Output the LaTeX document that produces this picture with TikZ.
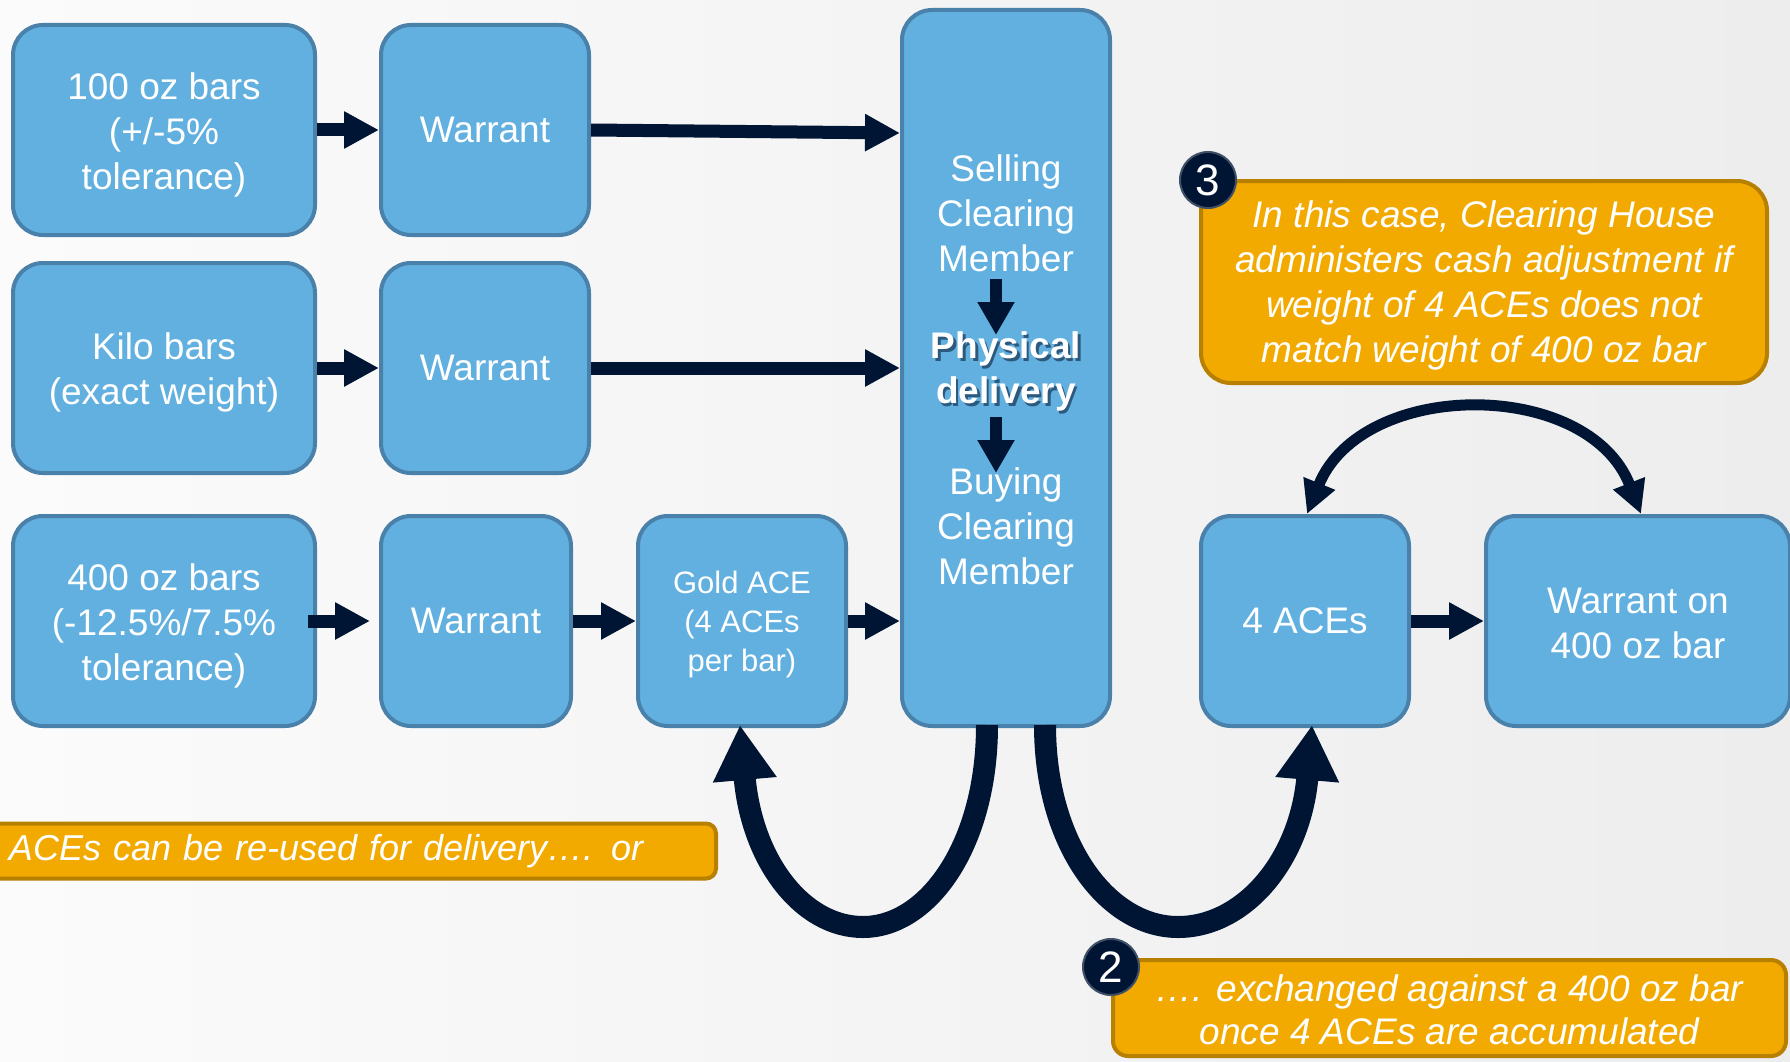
\documentclass[tikz,border=0pt]{standalone}
\usepackage{fontspec}
\setmainfont{Liberation Sans}
\usetikzlibrary{arrows.meta}
\definecolor{boxblue}{HTML}{62B0E0}
\definecolor{boxline}{HTML}{4A81AB}
\definecolor{navy}{HTML}{001533}
\definecolor{ofill}{HTML}{F2AA00}
\definecolor{oline}{HTML}{B78000}
\definecolor{bgl}{HTML}{FBFBFB}
\definecolor{bgr}{HTML}{EDEDED}
\newcommand{\tupa}{\rule{0pt}{36pt}}
\newcommand{\tupb}{\rule{0pt}{29pt}}
\newcommand{\tupc}{\rule{0pt}{34pt}}
\begin{document}
\begin{tikzpicture}[x=1pt,y=-1pt,
 bbox/.style={draw=boxline, fill=boxblue, line width=4pt, rounded corners=30pt, text=white, align=center, inner sep=0pt, font=\fontsize{37}{45}\selectfont},
 ctext/.style={text=white, align=center, inner sep=0pt, font=\fontsize{37}{45}\selectfont},
 obox/.style={draw=oline, fill=ofill, line width=4pt, text=white, font=\fontsize{37}{45}\selectfont\itshape, inner sep=0pt},
 harrow/.style={draw=navy, line width=13pt, -{Triangle[length=35pt,width=35pt]}},
 varrow/.style={draw=navy, line width=12pt, -{Triangle[length=33pt,width=35pt]}},
 ucurve/.style={draw=navy, line width=22pt, -{Triangle[length=55pt,width=60pt]}},
 arcarrow/.style={draw=navy, line width=11pt, {Triangle[length=33pt,width=32pt]}-{Triangle[length=33pt,width=32pt]}},
 numc/.style={circle, fill=navy, draw=navy!75!white, line width=2pt, minimum size=56pt, inner sep=0pt, text=white, font=\fontsize{44}{44}\selectfont}
]
\useasboundingbox (0,0) rectangle (1790,1062);
\clip (0,0) rectangle (1790,1062);
\shade[left color=bgl, right color=bgr] (0,0) rectangle (1790,1062);

% boxes
\node[bbox, minimum width=302pt, minimum height=210pt] (b1) at (164,130) {\tupa 100 oz bars\\(+/-5\%\\tolerance)};
\node[bbox, minimum width=208pt, minimum height=210pt] (w1) at (485,130) {Warrant};
\node[bbox, minimum width=302pt, minimum height=210pt] (b2) at (164,368) {\tupa Kilo bars\\(exact weight)};
\node[bbox, minimum width=208pt, minimum height=210pt] (w2) at (485,368) {Warrant};
\node[bbox, minimum width=302pt, minimum height=210pt] (b3) at (164,621) {\tupa 400 oz bars\\(-12.5\%/7.5\%\\tolerance)};
\node[bbox, minimum width=190pt, minimum height=210pt] (w3) at (476,621) {Warrant};
\node[bbox, minimum width=208pt, minimum height=210pt, font=\fontsize{31}{39}\selectfont] (ace) at (742,621) {\tupb Gold ACE\\(4 ACEs\\per bar)};
\node[bbox, minimum width=208pt, minimum height=716pt] (cm) at (1006,368) {};
\node[bbox, minimum width=208pt, minimum height=210pt] (a4) at (1305,621) {4 ACEs};
\node[bbox, minimum width=304pt, minimum height=210pt] (w4) at (1638,621) {\rule{0pt}{31pt}Warrant on\\400 oz bar};

% central texts
\node[ctext] (cs) at (1006,213) {Selling\\Clearing\\Member};
\node[ctext, text=navy!85!black, opacity=0.55, font=\fontsize{37}{45}\selectfont\bfseries] (cpsh) at (1008.5,374) {Physical\\delivery};
\node[ctext, font=\fontsize{37}{45}\selectfont\bfseries] (cp) at (1006,371.5) {Physical\\delivery};
\node[ctext] (cb) at (1006,526) {Buying\\Clearing\\Member};
\coordinate (d1a) at (996,279);
\coordinate (d1b) at (996,335);
\coordinate (d2a) at (996,417);
\coordinate (d2b) at (996,473);
\draw[varrow] (d1a) -- (d1b);
\draw[varrow] (d2a) -- (d2b);

% horizontal arrows
\draw[harrow] (b1.east) -- (w1.west);
\draw[harrow] (w1.east) -- ([yshift=-3pt]cm.west |- w1.east);
\draw[harrow] (b2.east) -- (w2.west);
\draw[harrow] (w2.east) -- (cm.west |- w2.east);
\draw[harrow] ([xshift=-9pt]b3.east) -- ([xshift=-9pt]w3.west);
\draw[harrow] (w3.east) -- (ace.west);
\draw[harrow] (ace.east) -- (cm.west |- ace.east);
\draw[harrow] (a4.east) -- (w4.west);

% U curves
\coordinate (lb) at (863,927);
\coordinate (rb) at (1178,927);
\draw[ucurve] ([xshift=-19pt,yshift=3pt]cm.south) .. controls +(0,120) and +(65,0) .. (lb) .. controls +(-60,0) and +(12,137) .. ([xshift=-2pt,yshift=3pt]ace.south);
\draw[ucurve] ([xshift=39pt,yshift=3pt]cm.south) .. controls +(0,120) and +(-70,0) .. (rb) .. controls +(65,0) and +(-12,137) .. ([xshift=7pt,yshift=3pt]a4.south);

% top arc
\draw[arcarrow] ([xshift=2pt]a4.north) .. controls +(55,-136) and +(-53,-136) .. ([xshift=3pt]w4.north);

% orange callouts
\node[obox, rounded corners=30pt, minimum width=566pt, minimum height=202pt, align=center] (o3) at (1484,282) {\tupc In this case, Clearing House\\administers cash adjustment if\\weight of 4 ACEs does not\\match weight of 400 oz bar};
\node[numc] (n3) at (1208,180) {3};

\node[obox, rounded corners=10pt, anchor=west, text width=682pt, align=left, inner xsep=25pt, minimum height=55pt, font=\fontsize{36}{45}\selectfont\itshape] (o1) at (-18,851) {ACEs can be re-used for delivery…. or};

\node[obox, rounded corners=15pt, minimum width=673pt, minimum height=96pt, align=center, font=\fontsize{37}{43}\selectfont\itshape] (o2) at (1449.5,1008) {\rule{0pt}{30pt}…. exchanged against a 400 oz bar\\once 4 ACEs are accumulated};
\node[numc] (n2) at (1111,967) {2};
\end{tikzpicture}
\end{document}
